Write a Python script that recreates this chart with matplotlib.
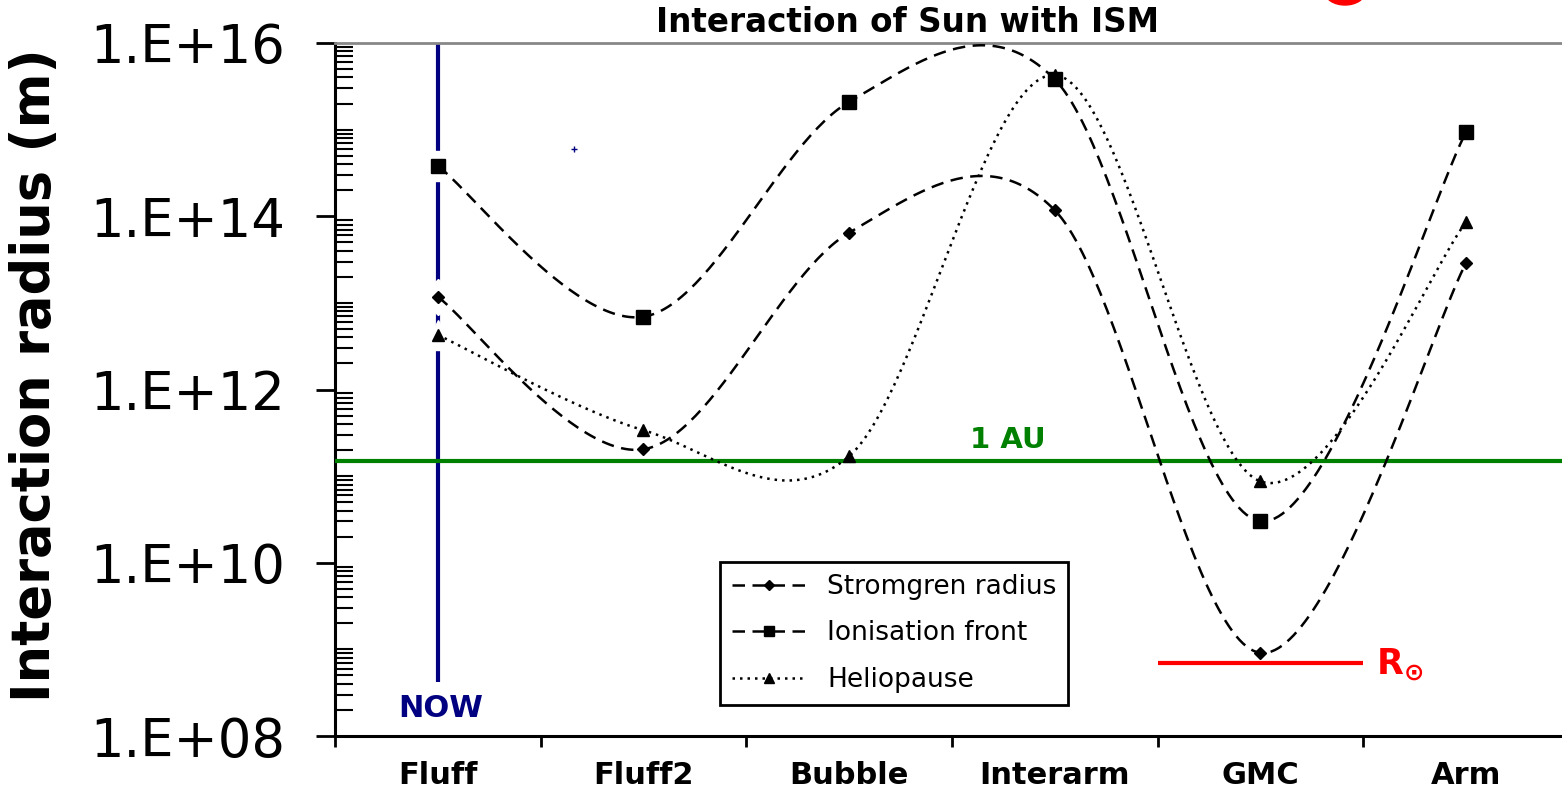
import numpy as np
import matplotlib
matplotlib.use('Agg')
import matplotlib.pyplot as plt
import matplotlib.ticker as mticker
import matplotlib.patches as mpatches
from matplotlib.lines import Line2D

# =============================================================================
# Data (log10 of radius in metres)
# =============================================================================

categories = ['Fluff', 'Fluff2', 'Bubble', 'Interarm', 'GMC', 'Arm']
stromgren_log = [13.07, 11.31, 13.81, 14.07, 8.96, 13.46]
ionisation_log = [14.58, 12.84, 15.32, 15.58, 10.48, 14.97]
heliopause_log = [12.63, 11.53, 11.23, 15.63, 10.94, 13.93]

AU_M = 1.496e11
R_SUN_M = 6.96e8
NOW_BOTTOM = 10 ** 8.62

# Visual settings
FIG_W, FIG_H, DPI = 15.62, 7.91, 100
NAVY = '#000080'
GREEN = '#008000'
RED = '#ff0000'


def smooth(xs, ys, n=60):
    """Excel-like smoothed line: Catmull-Rom through the points."""
    pts = np.column_stack([xs, ys]).astype(float)
    ext = np.vstack([pts[0], pts, pts[-1]])
    out = []
    for i in range(len(pts) - 1):
        p0, p1, p2, p3 = ext[i], ext[i + 1], ext[i + 2], ext[i + 3]
        m1 = (p2 - p0) / 2
        m2 = (p3 - p1) / 2
        t = np.linspace(0, 1, n)[:, None]
        h00 = 2 * t**3 - 3 * t**2 + 1
        h10 = t**3 - 2 * t**2 + t
        h01 = -2 * t**3 + 3 * t**2
        h11 = t**3 - t**2
        out.append(h00 * p1 + h10 * m1 + h01 * p2 + h11 * m2)
    seg = np.vstack(out)
    return seg[:, 0], 10 ** seg[:, 1]


fig = plt.figure(figsize=(FIG_W, FIG_H), dpi=DPI)
fig.patch.set_facecolor('white')
W, H = FIG_W * DPI, FIG_H * DPI
ax = fig.add_axes([335 / W, (H - 736) / H, (W - 335) / W, (736 - 43) / H])

x = np.arange(len(categories))

# ── NOW line (drawn first, markers get a white halo over it) ──
ax.vlines(0, NOW_BOTTOM, 1e16, color=NAVY, lw=3, zorder=1)
ax.plot([0.66], [10 ** 14.78], marker='+', color=NAVY, ms=4, mew=1, zorder=1)

series = [
    (stromgren_log, 'D', 6.5, (0, (5, 3)), 'Stromgren radius'),
    (ionisation_log, 's', 9.5, (0, (5, 3)), 'Ionisation front'),
    (heliopause_log, '^', 9, (0, (1, 2)), 'Heliopause'),
]

for vals, mk, ms, ls, lab in series:
    ax.plot(x, 10 ** np.array(vals), ls='none', marker=mk, ms=ms + 12,
            color='white', mec='white', zorder=2)

# ── Reference lines ──
ax.axhline(AU_M, color=GREEN, lw=3, zorder=3)
ax.hlines(R_SUN_M, 3.5, 4.5, color=RED, lw=3, zorder=3)

handles = []
for vals, mk, ms, ls, lab in series:
    sx, sy = smooth(x, vals)
    ax.plot(sx, sy, color='black', lw=1.8, ls=ls, zorder=4)
    ax.plot(x, 10 ** np.array(vals), ls='none', marker=mk, ms=ms,
            color='black', zorder=5)
    handles.append(Line2D([], [], color='black', lw=1.8, ls=ls, marker=mk,
                          ms=ms * 0.8, label=lab))

# ── Texts ──
ax.text(2.77, 10 ** 11.42, '1 AU', color=GREEN, fontsize=21,
        fontweight='bold', ha='center', va='center')
ax.text(0.015, 10 ** 8.32, 'NOW', color=NAVY, fontsize=22,
        fontweight='bold', ha='center', va='center')
ax.text(4.56, 10 ** 8.725, r'$\mathbf{R}_{\mathbf{\odot}}$', color=RED,
        fontsize=25, ha='left', va='baseline')

fig.text(908 / W, 1 - 22 / H, 'Interaction of Sun with ISM', fontsize=23.5,
         fontweight='bold', ha='center', va='center')
fig.text(35 / W, 1 - 375 / H, 'Interaction radius (m)', fontsize=38,
         fontweight='bold', rotation=90, ha='center', va='center')

# cut-off red mark at the top edge
fig.patches.append(mpatches.Ellipse((1345 / W, 1 + 8 / H), 40 / W, 26 / H,
                                    transform=fig.transFigure,
                                    color=RED, zorder=10))

# ── Axes styling ──
ax.set_yscale('log')
ax.set_ylim(1e8, 1e16)
ax.set_xlim(-0.5, (W - 438) / 205.6)

majors = 10.0 ** np.arange(8, 17, 2)
minors = [k * 10.0 ** e for e in range(8, 16) for k in range(1, 10)
          if not (k == 1 and e % 2 == 0)]
ax.yaxis.set_major_locator(mticker.FixedLocator(majors))
ax.yaxis.set_minor_locator(mticker.FixedLocator(minors))
ax.yaxis.set_major_formatter(mticker.FuncFormatter(
    lambda v, p: '1.E+%02d' % int(round(np.log10(v)))))
ax.yaxis.set_minor_formatter(mticker.NullFormatter())
ax.tick_params(axis='y', which='major', direction='out', length=14,
               width=2, labelsize=38, pad=22)
ax.tick_params(axis='y', which='minor', direction='in', length=13,
               width=1.5)

ax.xaxis.set_major_locator(mticker.FixedLocator(np.arange(-0.5, 6, 1)))
ax.xaxis.set_major_formatter(mticker.NullFormatter())
ax.xaxis.set_minor_locator(mticker.FixedLocator(x))
ax.xaxis.set_minor_formatter(mticker.FixedFormatter(categories))
ax.tick_params(axis='x', which='major', direction='out', length=8, width=2)
ax.tick_params(axis='x', which='minor', length=0, labelsize=22, pad=18)
for lab in ax.get_xticklabels(minor=True):
    lab.set_fontweight('bold')

ax.spines['left'].set_linewidth(2.2)
ax.spines['bottom'].set_linewidth(2.2)
ax.spines['top'].set_color('#888888')
ax.spines['top'].set_linewidth(2)
ax.spines['right'].set_visible(False)

leg = ax.legend(handles=handles, loc='upper left',
                bbox_to_anchor=((720 - 335) / (W - 335), (736 - 562) / 693),
                borderaxespad=0, fontsize=19, handlelength=2.8,
                labelspacing=0.78, fancybox=False, framealpha=1,
                edgecolor='black', borderpad=0.45)
leg.get_frame().set_linewidth(2)

fig.savefig('out.png', dpi=DPI, facecolor='white')
